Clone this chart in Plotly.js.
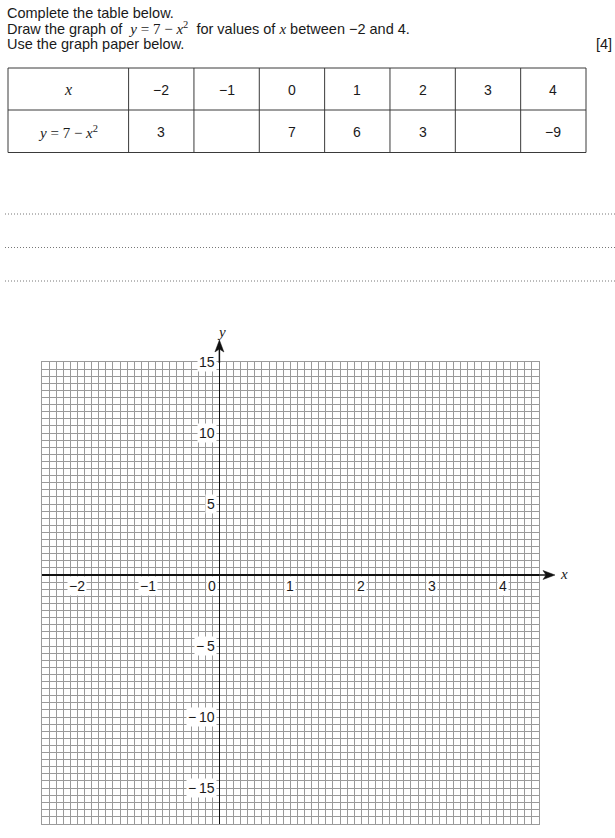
<!DOCTYPE html>
<html><head><meta charset="utf-8">
<script src="https://cdn.plot.ly/plotly-3.0.1.min.js"></script>
<style>html,body{margin:0;padding:0;background:#fff;overflow:hidden}</style>
</head><body><div id="chart" style="width:615px;height:838px"></div>
<script>
// ---- data ----
const xHeader = '<i>x</i>';
const yHeader = '<i>y</i> = 7 − <i>x</i><sup>2</sup>';
const tableX = ['−2', '−1', '0', '1', '2', '3', '4'];
const tableY = ['3', '', '7', '6', '3', '', '−9'];
const xTickVals = [-2, -1, 1, 2, 3, 4];
const xTickText = ['−2', '−1', '1', '2', '3', '4'];
const yTickVals = [15, 10, 5, -5, -10, -15];
const yTickText = ['15', '10', '5', '−\u20095', '−\u200910', '−\u200915'];
const xRange = [-2.5, 4.5];
const yRange = [-17.5, 15];
const instructions = [
  'Complete the table below.',
  'Draw the graph of&nbsp; <span style="font-family:\'Liberation Serif\',serif;font-size:15px"><i>y</i> = 7 − <i>x</i><sup>2</sup></span>&nbsp; for values of <span style="font-family:\'Liberation Serif\',serif;font-size:15px"><i>x</i></span> between −2 and 4.',
  'Use the graph paper below.'
];
const marks = '[4]';

// ---- layout helpers ----
const W = 615, H = 838;
const px = v => v / W;
const py = v => 1 - v / H;
const SANS = 'Liberation Sans, Arial, sans-serif';
const SERIF = 'Liberation Serif, Times New Roman, serif';
const INK = '#1a1a1a';

const plotLeft = 42, plotRight = 538.7, plotTop = 362, plotBottom = 823.5;
// pixel position of the axes' origin (from the ranges)
const originX = plotLeft + (0 - xRange[0]) / (xRange[1] - xRange[0]) * (plotRight - plotLeft);
const originY = plotTop + (yRange[1] - 0) / (yRange[1] - yRange[0]) * (plotBottom - plotTop);

const annotations = [];
const shapes = [];

instructions.forEach((t, i) => {
  annotations.push({xref: 'paper', yref: 'paper', x: px(5), y: py(13 + i * 15.3),
    xanchor: 'left', yanchor: 'middle', text: t, showarrow: false,
    font: {family: SANS, size: 14.5, color: INK}});
});
annotations.push({xref: 'paper', yref: 'paper', x: px(614), y: py(43.6),
  xanchor: 'right', yanchor: 'middle', text: marks, showarrow: false,
  font: {family: SANS, size: 14.5, color: INK}});

// ---- table (lines + cell texts) ----
const tLeft = 8, tRight = 586, tTop = 68, tMid = 110, tBottom = 152.5;
const firstColW = 120.6;
const colW = (tRight - tLeft - firstColW) / tableX.length;
const colEdges = [tLeft, tLeft + firstColW];
tableX.forEach((_, i) => colEdges.push(tLeft + firstColW + (i + 1) * colW));
const tableLine = {color: '#3a3a3a', width: 1};
[tTop, tMid, tBottom].forEach(yy => shapes.push({type: 'line', xref: 'paper', yref: 'paper',
  x0: px(tLeft), x1: px(tRight), y0: py(yy), y1: py(yy), line: tableLine}));
colEdges.forEach(xx => shapes.push({type: 'line', xref: 'paper', yref: 'paper',
  x0: px(xx), x1: px(xx), y0: py(tTop), y1: py(tBottom), line: tableLine}));
const rowCenters = [(tTop + tMid) / 2 + 0.5, (tMid + tBottom) / 2 + 0.5];
const rows = [[xHeader].concat(tableX), [yHeader].concat(tableY)];
rows.forEach((row, r) => {
  row.forEach((txt, c) => {
    if (txt === '') return;
    annotations.push({xref: 'paper', yref: 'paper',
      x: px((colEdges[c] + colEdges[c + 1]) / 2), y: py(rowCenters[r]),
      xanchor: 'center', yanchor: 'middle', text: txt, showarrow: false,
      font: c === 0 ? {family: SERIF, size: r === 0 ? 16 : 15, color: INK} : {family: SANS, size: 14, color: INK}});
  });
});

// dotted answer lines
[214, 247.5, 281].forEach(yy => shapes.push({
  type: 'line', xref: 'paper', yref: 'paper', x0: px(5), x1: px(615), y0: py(yy), y1: py(yy),
  line: {color: '#777', width: 1, dash: '1px,2px'}
}));

// ---- axis extensions and arrowheads (decoration, paper coords) ----
const axisInk = '#111';
const xTip = 555, yTip = 340, headLen = 12, headHalf = 4.5, notch = 3;
shapes.push({type: 'line', xref: 'paper', yref: 'paper', x0: px(plotRight - 1), x1: px(xTip - headLen + notch),
  y0: py(originY), y1: py(originY), line: {color: axisInk, width: 1.5}});
shapes.push({type: 'line', xref: 'paper', yref: 'paper', x0: px(originX), x1: px(originX),
  y0: py(plotTop + 1), y1: py(yTip + headLen - notch), line: {color: axisInk, width: 1.5}});
shapes.push({type: 'path', xref: 'paper', yref: 'paper', fillcolor: axisInk, line: {color: axisInk, width: 0.5},
  path: `M ${px(xTip)} ${py(originY)} L ${px(xTip - headLen)} ${py(originY - headHalf)} L ${px(xTip - headLen + notch)} ${py(originY)} L ${px(xTip - headLen)} ${py(originY + headHalf)} Z`});
shapes.push({type: 'path', xref: 'paper', yref: 'paper', fillcolor: axisInk, line: {color: axisInk, width: 0.5},
  path: `M ${px(originX)} ${py(yTip)} L ${px(originX - headHalf)} ${py(yTip + headLen)} L ${px(originX)} ${py(yTip + headLen - notch)} L ${px(originX + headHalf)} ${py(yTip + headLen)} Z`});

// ---- graph labels ----
xTickVals.forEach((v, i) => {
  annotations.push({xref: 'x', yref: 'y', x: v, y: 0, xanchor: 'center', yanchor: 'top',
    yshift: -1, text: xTickText[i], showarrow: false, bgcolor: '#ffffff', borderpad: 1,
    font: {family: SANS, size: 14, color: INK}});
});
annotations.push({xref: 'x', yref: 'y', x: 0, y: 0, xanchor: 'right', yanchor: 'top',
  xshift: -1, yshift: -1, text: '0', showarrow: false, bgcolor: '#ffffff', borderpad: 1,
  font: {family: SANS, size: 14, color: INK}});
yTickVals.forEach((v, i) => {
  annotations.push({xref: 'x', yref: 'y', x: 0, y: v, xanchor: 'right', yanchor: 'middle',
    xshift: -2, text: yTickText[i], showarrow: false, bgcolor: '#ffffff', borderpad: 1,
    font: {family: SANS, size: 14, color: INK}});
});
// axis names
annotations.push({xref: 'paper', yref: 'paper', x: px(564), y: py(574), xanchor: 'center', yanchor: 'middle',
  text: '<i>x</i>', showarrow: false, font: {family: SERIF, size: 15, color: INK}});
annotations.push({xref: 'paper', yref: 'paper', x: px(221), y: py(332), xanchor: 'center', yanchor: 'middle',
  text: '<i>y</i>', showarrow: false, font: {family: SERIF, size: 15, color: INK}});

const traces = [
  {type: 'scatter', x: [], y: [], mode: 'lines', showlegend: false, hoverinfo: 'skip'}
];

const gridColor = '#9a9a9a';
const layout = {
  width: W, height: H, margin: {l: 0, r: 0, t: 0, b: 0, pad: 0},
  paper_bgcolor: '#ffffff', plot_bgcolor: '#ffffff', showlegend: false,
  xaxis: {domain: [px(plotLeft), px(plotRight)], range: xRange, tick0: 0, dtick: 0.1,
    showgrid: true, gridcolor: gridColor, gridwidth: 1, showticklabels: false, ticks: '',
    zeroline: true, zerolinecolor: axisInk, zerolinewidth: 1.5,
    showline: true, mirror: true, linecolor: gridColor, linewidth: 1, fixedrange: true},
  yaxis: {domain: [py(plotBottom), py(plotTop)], range: yRange, tick0: 0, dtick: 0.5,
    showgrid: true, gridcolor: gridColor, gridwidth: 1, showticklabels: false, ticks: '',
    zeroline: true, zerolinecolor: axisInk, zerolinewidth: 1.5,
    showline: true, mirror: true, linecolor: gridColor, linewidth: 1, fixedrange: true},
  annotations: annotations,
  shapes: shapes
};

Plotly.newPlot('chart', traces, layout, {displayModeBar: false, staticPlot: true});
</script>
</body></html>
